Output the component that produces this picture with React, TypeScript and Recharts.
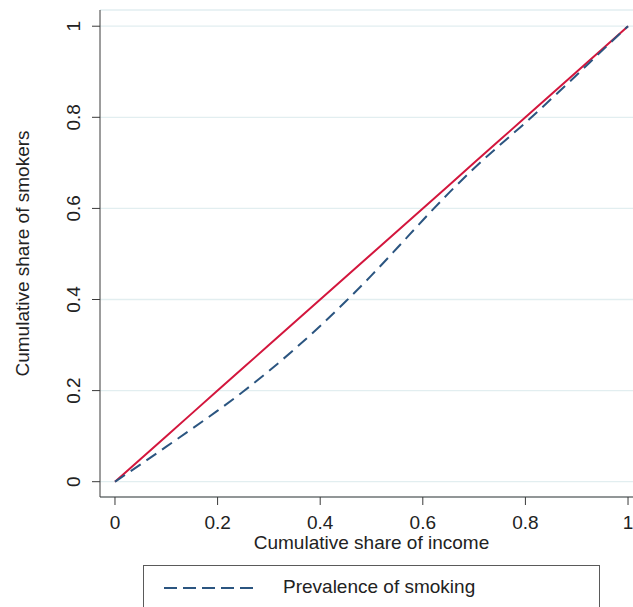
import React from "react";
import {
  LineChart,
  Line,
  XAxis,
  YAxis,
  CartesianGrid,
  Legend,
  Label,
} from "recharts";

// cumulative share of income (x) and the two curves
const incomeShare = [
  0, 0.05, 0.1, 0.15, 0.2, 0.25, 0.3, 0.35, 0.4, 0.45, 0.5, 0.55, 0.6, 0.65,
  0.7, 0.75, 0.8, 0.85, 0.9, 0.95, 1,
];
const equalityLine = [
  0, 0.05, 0.1, 0.15, 0.2, 0.25, 0.3, 0.35, 0.4, 0.45, 0.5, 0.55, 0.6, 0.65,
  0.7, 0.75, 0.8, 0.85, 0.9, 0.95, 1,
];
const smokingShare = [
  0, 0.038, 0.077, 0.116, 0.156, 0.198, 0.243, 0.291, 0.342, 0.396, 0.453,
  0.513, 0.574, 0.633, 0.688, 0.739, 0.788, 0.84, 0.893, 0.947, 1,
];
const ticks = [0, 0.2, 0.4, 0.6, 0.8, 1];
const tickLabels = ["0", "0.2", "0.4", "0.6", "0.8", "1"];

const data = incomeShare.map((x, i) => ({
  share: x,
  equality: equalityLine[i],
  smoking: smokingShare[i],
}));

const RED = "#d3163d";
const NAVY = "#2b5580";
const AXIS = "#3a3a3a";
const FONT = "'Liberation Sans', Arial, sans-serif";

const fmt = (v: number) => tickLabels[ticks.indexOf(v)] ?? String(v);

function YTick({ x, y, payload }: { x?: number; y?: number; payload?: { value: number } }) {
  return (
    <text
      transform={`translate(${x},${y}) rotate(-90)`}
      textAnchor="middle"
      fill="#222"
      fontSize={19}
      fontFamily={FONT}
    >
      {fmt(payload?.value ?? 0)}
    </text>
  );
}

function LegendBox() {
  return (
    <div
      style={{
        boxSizing: "border-box",
        width: 457,
        height: 42,
        border: "1px solid #5a5a5a",
        borderBottom: "none",
        position: "relative",
        fontFamily: FONT,
        fontSize: 19,
        color: "#222",
      }}
    >
      <svg width={92} height={8} style={{ position: "absolute", left: 20, top: 18 }}>
        <line x1={0} y1={4} x2={92} y2={4} stroke={NAVY} strokeWidth={2} strokeDasharray="13 6" />
      </svg>
      <span style={{ position: "absolute", left: 139, top: 9, lineHeight: "24px" }}>
        Prevalence of smoking
      </span>
    </div>
  );
}

export default function App() {
  return (
    <div style={{ position: "absolute", left: 0, top: 0, background: "#fff" }}>
      <LineChart
        width={633}
        height={607}
        data={data}
        margin={{ top: 10, right: 0, bottom: 54, left: 0 }}
        style={{ fontFamily: FONT }}
      >
        <CartesianGrid horizontal vertical={false} stroke="#e2eef0" strokeWidth={1.3} />
        <XAxis
          dataKey="share"
          type="number"
          domain={[-0.0292, 1.0097]}
          ticks={ticks}
          tickFormatter={fmt}
          height={56}
          tickSize={8}
          tickMargin={11}
          stroke={AXIS}
          tick={{ fill: "#222", fontSize: 19 }}
        >
          <Label
            value="Cumulative share of income"
            position="insideBottom"
            offset={4}
            dx={5}
            fill="#222"
            fontSize={19}
          />
        </XAxis>
        <YAxis
          type="number"
          domain={[-0.0336, 1.0356]}
          ticks={ticks}
          width={100}
          tickSize={8}
          tickMargin={12}
          stroke={AXIS}
          tick={<YTick />}
        >
          <Label
            content={({ viewBox }: any) => {
              const cy = viewBox ? viewBox.y + viewBox.height / 2 : 253;
              return (
                <text
                  transform={`translate(29,${cy}) rotate(-90)`}
                  textAnchor="middle"
                  fill="#222"
                  fontSize={19}
                  fontFamily={FONT}
                >
                  Cumulative share of smokers
                </text>
              );
            }}
          />
        </YAxis>
        <Line
          dataKey="equality"
          type="linear"
          stroke={RED}
          strokeWidth={2}
          dot={false}
          isAnimationActive={false}
          legendType="none"
        />
        <Line
          dataKey="smoking"
          name="Prevalence of smoking"
          type="monotone"
          stroke={NAVY}
          strokeWidth={2}
          strokeDasharray="12 7"
          dot={false}
          isAnimationActive={false}
        />
        <Legend
          layout="vertical"
          align="center"
          verticalAlign="middle"
          wrapperStyle={{ left: 143, top: 565, width: 457, height: 42 }}
          content={() => <LegendBox />}
        />
      </LineChart>
    </div>
  );
}
